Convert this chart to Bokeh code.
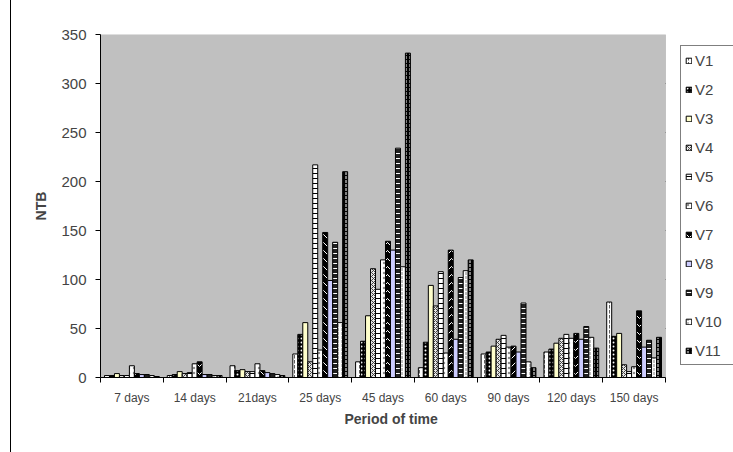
from bokeh.plotting import figure
from bokeh.models import (Range1d, FixedTicker, ColumnDataSource, Legend, LegendItem,
                          BoxAnnotation, Title)
from bokeh.transform import dodge
from bokeh.embed import file_html
from bokeh.resources import INLINE

# Sampling periods and NTB readings per variety
periods = ["7 days", "14 days", "21days", "25 days", "45 days", "60 days",
           "90 days", "120 days", "150 days"]
names = ["V1", "V2", "V3", "V4", "V5", "V6", "V7", "V8", "V9", "V10", "V11"]

v1 = [2, 2, 12, 24, 16, 10, 24, 26, 77]
v2 = [2, 3, 7, 44, 37, 36, 26, 29, 42]
v3 = [4, 6, 8, 56, 63, 94, 32, 35, 45]
v4 = [2, 4, 6, 16, 111, 73, 39, 40, 13]
v5 = [2, 5, 6, 217, 90, 108, 43, 44, 6]
v6 = [12, 14, 14, 28, 120, 25, 31, 40, 11]
v7 = [4, 16, 7, 148, 139, 130, 32, 45, 68]
v8 = [3, 3, 5, 99, 130, 39, 26, 39, 31]
v9 = [3, 3, 4, 138, 234, 102, 76, 52, 38]
v10 = [2, 2, 3, 56, 113, 109, 16, 41, 20]
v11 = [1, 2, 2, 210, 331, 120, 10, 30, 41]
series = [v1, v2, v3, v4, v5, v6, v7, v8, v9, v10, v11]

y_ticks = [0, 50, 100, 150, 200, 250, 300, 350]
y_max = 350

# fill colour, hatch pattern, hatch colour, hatch scale for each variety
styles = [
    ("white", ":", "#606060", 5),
    ("black", ".", "white", 4),
    ("#FFFFCC", " ", "black", 4),
    ("#E8E8E8", "x", "#404040", 4),
    ("white", "-", "black", 5),
    ("white", ".", "#909090", 5),
    ("black", "v", "white", 8),
    ("#CCCCFF", " ", "black", 4),
    ("#202020", "-", "white", 5),
    ("white", ":", "#808080", 4),
    ("black", ":", "white", 4),
]

FONT = "Liberation Sans"
n_cat = len(periods)

data = {"xc": [i + 0.5 for i in range(n_cat)]}
for n, s in zip(names, series):
    data[n] = s
src = ColumnDataSource(data)

# the frame runs to the right edge so the legend can sit beside the plot area;
# the categories fill the first 565 px of it
frame_w = 633
cat_w = 565
p = figure(width=722, height=452, output_backend="svg", toolbar_location=None,
           x_range=Range1d(0, n_cat * frame_w / cat_w), y_range=Range1d(0, y_max),
           min_border_left=89, min_border_right=0, min_border_top=34,
           min_border_bottom=75)
# chart-area border on the left side
p.styles = {"margin-left": "10px", "border-left": "1px solid black"}
p.background_fill_color = "white"
p.border_fill_color = "white"
p.outline_line_color = None

# grey plot area
p.add_layout(BoxAnnotation(left=0, right=n_cat, bottom=0, top=y_max,
                           fill_color="#C0C0C0", fill_alpha=1,
                           line_color="#808080", line_width=1, level="underlay"))

# y axis
p.yaxis.ticker = FixedTicker(ticks=y_ticks, minor_ticks=[])
p.yaxis.major_tick_out = 5
p.yaxis.major_tick_in = 0
p.yaxis.major_label_standoff = 9
p.yaxis.major_label_text_font = FONT
p.yaxis.major_label_text_font_size = "15px"
p.yaxis.axis_line_color = "black"
p.yaxis.axis_label = "NTB"
p.yaxis.axis_label_text_font = FONT
p.yaxis.axis_label_text_font_style = "bold"
p.yaxis.axis_label_text_font_size = "14px"
p.yaxis.axis_label_standoff = 9
p.ygrid.ticker = FixedTicker(ticks=y_ticks)
p.ygrid.grid_line_color = "black"
p.ygrid.cross_bounds = (0, n_cat)
p.xgrid.grid_line_color = None

# x axis: labels at the middle of each period, ticks on the period boundaries
p.xaxis.bounds = (0, n_cat)
p.xaxis.ticker = FixedTicker(ticks=[i + 0.5 for i in range(n_cat)],
                             minor_ticks=list(range(n_cat + 1)))
p.xaxis.major_label_overrides = {i + 0.5: lab for i, lab in enumerate(periods)}
p.xaxis.major_tick_line_color = None
p.xaxis.major_tick_out = 0
p.xaxis.major_tick_in = 0
p.xaxis.minor_tick_line_color = "black"
p.xaxis.minor_tick_out = 5
p.xaxis.minor_tick_in = 0
p.xaxis.major_label_standoff = 8
p.xaxis.major_label_text_font = FONT
p.xaxis.major_label_text_font_size = "12px"
p.xaxis.axis_line_color = "black"

# x axis title under the grey plot area (offset measured from the frame's left edge)
p.add_layout(Title(text="Period of time", align="left", offset=244,
                   text_font=FONT, text_font_size="14px", text_font_style="bold",
                   standoff=2), "below")

bw = 55.0 / 63.0 / len(names)
items = []
for j, (n, st) in enumerate(zip(names, styles)):
    fc, hp, hc, hs = st
    off = (j - (len(names) - 1) / 2) * bw
    r = p.vbar(x=dodge("xc", off), top=n, width=bw, source=src,
               fill_color=fc, line_color="black", line_width=1,
               hatch_pattern=hp, hatch_color=hc, hatch_scale=hs, hatch_weight=1)
    items.append(LegendItem(label=n, renderers=[r]))

legend = Legend(items=items, location=(580, 12), orientation="vertical",
                glyph_width=7, glyph_height=7, label_height=20, spacing=9,
                padding=4, margin=0, label_standoff=3, label_width=60,
                label_text_font=FONT, label_text_font_size="15px",
                border_line_color="black", border_line_width=1,
                background_fill_color="white", background_fill_alpha=1)
p.add_layout(legend, "center")

open("out.html", "w").write(file_html(p, INLINE))
